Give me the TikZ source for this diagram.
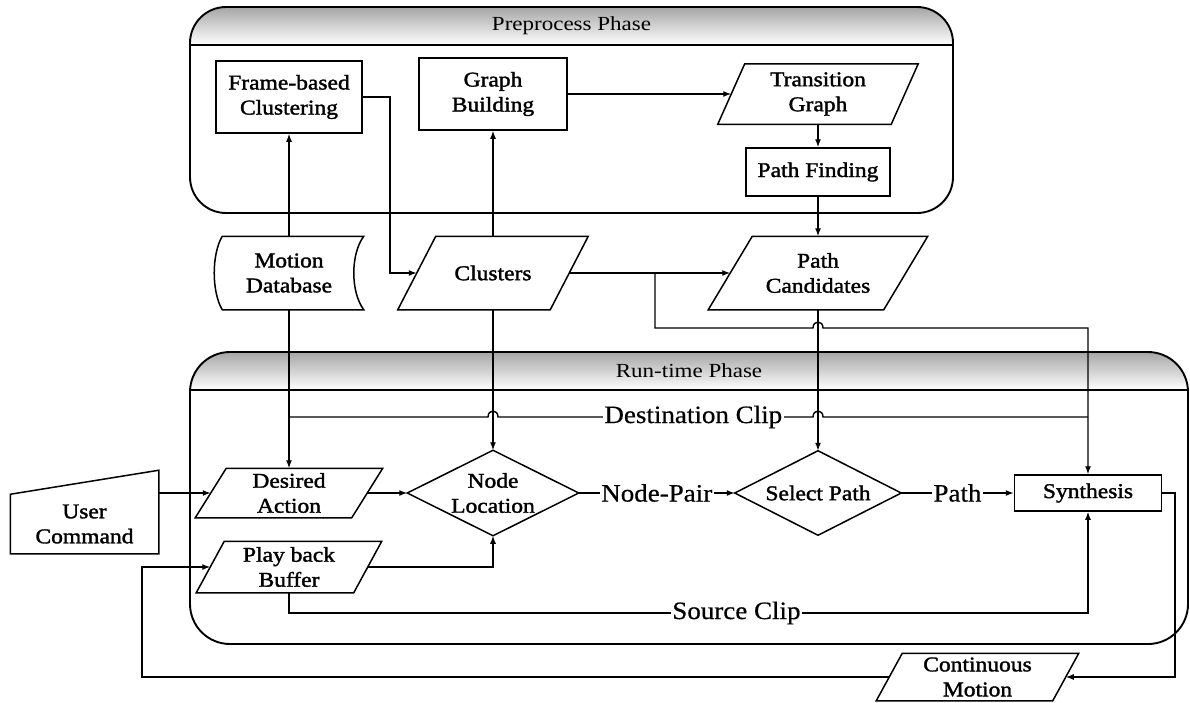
\documentclass[tikz,border=0pt]{standalone}
\usepackage{fontspec}
\setmainfont{Liberation Serif}
\newfontfamily\ndfam[FakeStretch=1.12,FakeBold=1.6]{Liberation Serif}
\newfontfamily\ttlfam[FakeStretch=1.15]{Liberation Serif}
\newfontfamily\edfam[FakeStretch=1.08,FakeBold=0.5]{Liberation Serif}
\usetikzlibrary{arrows.meta,calc}
\newcommand\ndfont{\ndfam\fontsize{21}{25}\selectfont}
\newcommand\ttlfont{\ttlfam\fontsize{20}{24}\selectfont}
\newcommand\edfont{\edfam\fontsize{25}{30}\selectfont}
\newcommand\drawpara[2]{\draw[nd] ([xshift=-#2pt]#1.south west) -- ([xshift=#2pt]#1.north west) -- ([xshift=#2pt]#1.north east) -- ([xshift=-#2pt]#1.south east) -- cycle;}
\tikzset{
  nd/.style={draw, line width=1.5pt, line join=miter},
  ln/.style={line width=1.4pt},
  arr/.style={ln, -{Latex[length=8pt,width=6pt]}},
  nb/.style={rectangle, inner sep=0pt, align=center, font=\ndfont, line width=1.5pt},
  phase/.style={line width=1.9pt, rounded corners=#1},
  ttl/.style={inner sep=0pt, font=\ttlfont},
  elbl/.style={fill=white, inner sep=1.5pt, font=\edfont}
}
\begin{document}
\begin{tikzpicture}[x=1pt,y=-1pt]
\useasboundingbox (0,0) rectangle (1190,702);
\fill[white] (0,0) rectangle (1190,702);

% Preprocess phase frame
\begin{scope}
  \clip[rounded corners=36pt] (190,7) rectangle (953,213);
  \shade[top color=black!35, bottom color=white] (190,7) rectangle (953,45);
\end{scope}
\draw[phase=36pt] (190,7) rectangle (953,213);
\draw[line width=1.9pt] (190,45) -- (953,45);
\node[ttl] (pptitle) at (571.5,26) {Preprocess Phase};

% Run-time phase frame
\begin{scope}
  \clip[rounded corners=40pt] (190,352) rectangle (1188,644);
  \shade[top color=black!35, bottom color=white] (190,352) rectangle (1188,390);
\end{scope}
\draw[phase=40pt] (190,352) rectangle (1188,644);
\draw[line width=1.9pt] (190,390) -- (1188,390);
\node[ttl] (rttitle) at (689,371) {Run-time Phase};

% nodes
\node[nb, draw, minimum width=146pt, minimum height=72pt] (fbc) at (289,97) {Frame-based\\Clustering};
\node[nb, draw, minimum width=148pt, minimum height=72pt] (gb) at (493,94) {Graph\\Building};
\node[nb, minimum width=172pt, minimum height=59pt] (tg) at (818,94) {Transition\\Graph};
\drawpara{tg}{13.5}
\node[nb, draw, minimum width=144pt, minimum height=48pt] (pf) at (818,172) {Path Finding};
\node[nb, minimum width=148pt, minimum height=72pt] (mdb) at (289,273) {Motion\\Database};
\draw[nd] ([xshift=8pt]mdb.north west) -- (mdb.north east)
  .. controls +(-13.3,18) and +(-13.3,-18) .. (mdb.south east)
  -- ([xshift=8pt]mdb.south west)
  .. controls +(-10.7,-18) and +(-10.7,18) .. cycle;
\node[nb, minimum width=151pt, minimum height=72pt] (cl) at (493,273) {Clusters};
\drawpara{cl}{19}
\node[nb, minimum width=174pt, minimum height=72pt] (pc) at (818,273) {Path\\Candidates};
\drawpara{pc}{22}
\node[nb, minimum width=147pt, minimum height=58pt] (uc) at (84.5,524) {User\\Command};
\draw[nd] (uc.south west) -- (uc.south east) -- ([yshift=24pt]uc.north east) -- (uc.north west) -- cycle;
\node[nb, minimum width=155pt, minimum height=48pt] (da) at (289,493) {Desired\\Action};
\drawpara{da}{15.5}
\node[nb, minimum width=156pt, minimum height=50pt] (pb) at (289,567) {Play back\\Buffer};
\drawpara{pb}{14}
\node[nb, minimum width=170pt, minimum height=84pt] (nl) at (493,493) {Node\\Location};
\draw[nd] (nl.west) -- (nl.north) -- (nl.east) -- (nl.south) -- cycle;
\node[nb, minimum width=165pt, minimum height=83pt] (sp) at (818,493) {Select Path};
\draw[nd] (sp.west) -- (sp.north) -- (sp.east) -- (sp.south) -- cycle;
\node[nb, draw, minimum width=147pt, minimum height=36pt] (syn) at (1088,493) {Synthesis};
\node[nb, minimum width=175pt, minimum height=46pt] (cm) at (977.5,677) {Continuous\\Motion};
\drawpara{cm}{13}

% helper coordinates
\coordinate (fc) at (390,97);
\coordinate (br) at (655,273);
\coordinate (brc) at (655,328);
\coordinate (dcl) at (289,417);
\coordinate (sc) at (289,613);
\coordinate (fbr) at (1175,677);
\coordinate (fbl) at (142,677);

% connectors
\draw[arr] (mdb.north) -- (fbc.south);
\draw[arr] (mdb.south) -- (da.north);
\draw[arr] (cl.north) -- (gb.south);
\draw[arr] (cl.south) -- (nl.north);
\draw[arr] (fbc.east) -- (fc) |- (cl.west);
\draw[arr] (gb.east) -- (tg.west);
\draw[arr] (tg.south) -- (pf.north);
\draw[arr] (pf.south) -- (pc.north);
\draw[arr] (cl.east) -- (pc.west);
\draw[arr] (br) -- (brc) -- ($(pc.south|-brc)+(-5,0)$)
  .. controls ($(pc.south|-brc)+(-5,-8)$) and ($(pc.south|-brc)+(5,-8)$) .. ($(pc.south|-brc)+(5,0)$)
  -- (syn.north|-brc) -- (syn.north);
\draw[arr] (pc.south) -- (sp.north);
\draw[ln] (dcl) -- ($(nl.north|-dcl)+(-5,0)$)
  .. controls ($(nl.north|-dcl)+(-5,-8)$) and ($(nl.north|-dcl)+(5,-8)$) .. ($(nl.north|-dcl)+(5,0)$)
  -- node[elbl,pos=0.62]{Destination Clip} ($(sp.north|-dcl)+(-5,0)$)
  .. controls ($(sp.north|-dcl)+(-5,-8)$) and ($(sp.north|-dcl)+(5,-8)$) .. ($(sp.north|-dcl)+(5,0)$)
  -- (syn.north|-dcl);
\draw[arr] (uc.east|-da.west) -- (da.west);
\draw[arr] (da.east) -- (nl.west);
\draw[arr] (nl.east) -- node[elbl]{Node-Pair} (sp.west);
\draw[arr] (sp.east) -- node[elbl]{Path} (syn.west);
\draw[arr] (pb.east) -| (nl.south);
\draw[arr] (pb.south) -- (sc) -- node[elbl,pos=0.56]{Source Clip} (syn.south|-sc) -- (syn.south);
\draw[arr] (syn.east) -| (fbr) -- (cm.east);
\draw[arr] (cm.west) -- (fbl) |- (pb.west);
\end{tikzpicture}
\end{document}
